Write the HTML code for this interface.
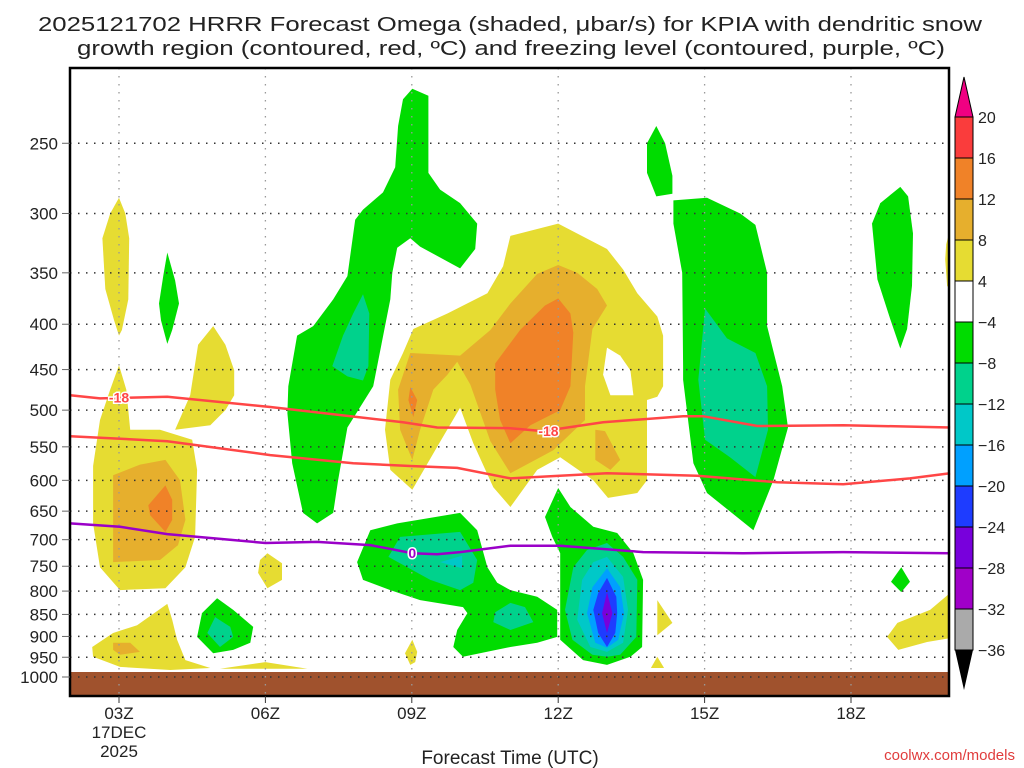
<!DOCTYPE html>
<html><head><meta charset="utf-8"><style>
html,body{margin:0;padding:0;background:#fff;}
svg{display:block;font-family:"Liberation Sans",sans-serif;}
</style></head><body>
<svg id="chart" width="1024" height="768" viewBox="0 0 1024 768">
<g id="title" fill="#222" font-size="20">
<text x="38" y="31" textLength="944" lengthAdjust="spacingAndGlyphs">2025121702 HRRR Forecast Omega (shaded, μbar/s) for KPIA with dendritic snow</text>
<text x="77" y="55" textLength="868" lengthAdjust="spacingAndGlyphs">growth region (contoured, red, ºC) and freezing level (contoured, purple, ºC)</text>
</g>
<g id="fills"></g>
<rect x="70" y="672" width="879" height="24" fill="#a0522d"/>
<g id="grid"></g>
<g id="lines"></g>
<rect x="70" y="68" width="879" height="628" fill="none" stroke="#000" stroke-width="2.5"/>
<g id="axes" fill="#222" font-size="17"></g>
<text x="510" y="764" text-anchor="middle" font-size="19" fill="#222">Forecast Time (UTC)</text>
<text x="1015" y="760" text-anchor="end" font-size="15" fill="#e03c3c">coolwx.com/models</text>
<g id="cbar" font-size="16" fill="#222"></g>
</svg>
<script>
const NS="http://www.w3.org/2000/svg";
// ---- data ----
const xTickHours=[3,6,9,12,15,18];
const xTickLabels=["03Z","06Z","09Z","12Z","15Z","18Z"];
const yTickLevels=[250,300,350,400,450,500,550,600,650,700,750,800,850,900,950,1000];
const cbarLabels=["20","16","12","8","4","-4","-8","-12","-16","-20","-24","-28","-32","-36"];
const cbarColors=["#fa3c3c","#f08228","#e6af2d","#e6dc32","#ffffff","#00dc00","#00d28c","#00c8c8","#00a0ff","#1e3cff","#7800dc","#a000c8","#aaaaaa"];
// shaded omega regions: [colorIndex, [[hour,hPa],...]]
const regions=[
[3,[[3.0,288],[3.13,300],[3.21,320],[3.19,375],[3.06,406],[3.0,412],[2.9,396],[2.72,365],[2.66,320],[2.82,300]]],
[3,[[3.0,445],[3.15,474],[3.23,526],[3.84,526],[4.5,540],[4.6,584],[4.56,695],[4.36,752],[3.95,794],[3.02,798],[2.61,752],[2.47,671],[2.47,578],[2.61,513],[2.82,474]]],
[3,[[4.93,402],[5.18,422],[5.36,451],[5.36,481],[5.18,500],[4.87,520],[4.15,526],[4.46,481],[4.62,422]]],
[2,[[2.88,592],[3.43,576],[3.95,569],[4.25,600],[4.36,665],[4.21,710],[3.84,738],[2.88,742]]],
[1,[[3.95,608],[4.09,631],[4.09,665],[3.95,686],[3.64,657],[3.6,640]]],
[5,[[3.99,332],[4.15,357],[4.23,379],[4.09,406],[3.99,421],[3.86,396],[3.82,379],[3.91,352]]],
[5,[[9.01,217],[9.34,221],[9.34,241],[9.34,270],[9.58,282],[9.99,292],[10.34,308],[10.30,329],[9.99,346],[9.17,327],[8.97,320],[8.70,328],[8.60,350],[8.56,375],[8.21,470],[7.68,523],[7.49,600],[7.39,653],[7.06,671],[6.77,653],[6.55,574],[6.45,504],[6.47,470],[6.65,412],[6.98,402],[7.39,375],[7.68,353],[7.84,305],[8.0,297],[8.41,284],[8.66,266],[8.72,239],[8.82,223]]],
[6,[[8.0,370],[8.13,389],[8.11,446],[8.0,463],[7.68,458],[7.37,446],[7.59,412],[7.80,389]]],
[3,[[11.02,318],[12.0,308],[13.0,329],[13.33,347],[13.62,369],[14.03,392],[14.15,412],[14.15,470],[14.03,483],[13.82,487],[13.82,600],[13.62,620],[13.02,628],[12.72,600],[12.04,565],[11.57,584],[11.02,643],[10.67,611],[10.26,545],[9.99,497],[9.52,550],[9.01,615],[8.56,584],[8.45,526],[8.56,462],[8.82,431],[9.03,405],[9.73,389],[10.55,369],[10.87,344]]],
[4,[[13.0,425],[13.27,434],[13.48,451],[13.54,481],[13.07,481],[12.92,456]]],
[2,[[12.76,526],[12.96,528],[13.27,569],[13.07,584],[12.76,569]]],
[2,[[8.97,431],[9.99,434],[10.61,406],[11.02,379],[11.57,351],[12.0,343],[12.39,350],[12.8,365],[13.0,381],[12.70,405],[12.55,470],[12.55,513],[11.90,555],[11.02,589],[10.61,542],[10.2,468],[9.93,441],[9.73,456],[9.44,474],[9.17,526],[9.01,569],[8.76,526],[8.72,474]]],
[1,[[10.71,443],[11.22,406],[11.73,381],[12.0,374],[12.25,389],[12.31,409],[12.25,470],[12.04,500],[11.43,520],[11.02,545],[10.81,513],[10.71,474]]],
[1,[[8.97,471],[9.11,487],[9.03,509],[8.93,487]]],
[5,[[14.01,239],[14.19,250],[14.34,272],[14.34,285],[14.01,287],[13.82,270],[13.82,250]]],
[5,[[14.36,290],[15.05,288],[15.73,300],[16.04,309],[16.28,350],[16.28,402],[16.59,470],[16.71,523],[16.41,600],[16.0,683],[15.05,620],[14.77,574],[14.56,462],[14.56,446],[14.54,350],[14.36,308]]],
[6,[[15.01,384],[15.46,415],[16.04,431],[16.28,470],[16.30,526],[16.04,595],[15.52,565],[15.01,540],[14.87,462]]],
[5,[[19.01,280],[19.17,287],[19.27,316],[19.25,362],[19.15,405],[19.01,426],[18.80,394],[18.54,356],[18.43,308],[18.60,292]]],
[3,[[20.03,313],[19.95,325],[19.93,338],[19.97,362],[20.03,366]]],
[5,[[7.88,742],[8.15,683],[8.70,671],[9.99,653],[10.34,683],[10.55,752],[10.75,783],[11.02,798],[11.57,812],[11.98,840],[11.98,901],[11.57,915],[11.02,925],[10.05,949],[9.85,925],[9.93,885],[10.14,847],[10.05,834],[9.17,819],[8.56,798],[8.0,777]]],
[6,[[8.52,732],[8.76,695],[9.99,686],[10.34,738],[10.26,783],[9.99,798],[9.38,777]]],
[7,[[9.58,742],[10.03,730],[10.03,754]]],
[6,[[10.71,845],[11.02,825],[11.32,834],[11.49,867],[11.02,885],[10.67,867]]],
[5,[[12.0,612],[12.25,643],[12.72,677],[13.21,688],[13.54,725],[13.74,777],[13.72,925],[13.48,949],[13.0,969],[12.51,957],[12.04,908],[12.04,812],[12.04,725],[11.88,695],[11.73,660]]],
[6,[[13.0,706],[13.33,732],[13.62,777],[13.6,901],[13.27,944],[13.0,949],[12.70,944],[12.29,908],[12.14,840],[12.31,752],[12.59,719]]],
[7,[[13.0,732],[13.33,771],[13.43,840],[13.33,915],[13.0,937],[12.66,925],[12.39,862],[12.49,777],[12.72,742]]],
[8,[[13.0,754],[13.27,792],[13.35,847],[13.23,908],[13.0,927],[12.76,915],[12.59,847],[12.70,792]]],
[9,[[13.0,773],[13.19,812],[13.21,847],[13.17,892],[13.0,925],[12.82,892],[12.72,840],[12.82,804]]],
[10,[[13.0,802],[13.11,847],[13.0,892],[12.90,847]]],
[5,[[5.01,815],[5.34,840],[5.75,878],[5.69,915],[5.34,932],[4.93,940],[4.60,901],[4.70,847]]],
[6,[[4.97,856],[5.28,878],[5.34,901],[5.07,925],[4.81,892]]],
[3,[[2.45,925],[2.88,892],[3.37,874],[3.99,827],[4.09,862],[4.19,908],[4.36,957],[4.87,977],[4.05,982],[3.02,974],[2.47,949]]],
[2,[[2.88,915],[3.23,915],[3.43,937],[3.02,944],[2.88,932]]],
[3,[[5.07,979],[6.0,962],[6.86,979]]],
[3,[[6.04,725],[6.34,744],[6.34,777],[6.04,794],[5.85,763],[5.89,738]]],
[3,[[9.01,908],[9.11,937],[9.07,962],[8.97,969],[8.86,940]]],
[3,[[14.03,819],[14.34,869],[14.03,897]]],
[3,[[13.9,977],[14.03,949],[14.17,977]]],
[5,[[19.03,752],[19.21,781],[19.03,802],[18.82,781]]],
[3,[[20.03,804],[19.62,840],[18.95,869],[18.74,901],[18.97,932],[19.56,913],[20.03,904]]]
];
const dgzUpperHours=[2.0,2.61,3.99,6.10,8.82,9.52,11.02,11.69,12.92,14.56,14.97,16.08,17.84,20.03];
const dgzUpperP=[481,485,483,496,516,523,524,528,516,508,508,521,520,523];
const dgzLowerHours=[2.0,3.99,6.10,7.80,8.97,9.93,11.02,13.0,14.85,16.49,17.84,19.21,20.03];
const dgzLowerP=[535,542,562,574,578,581,597,589,593,603,606,597,589];
const frzHours=[2.0,3.02,3.99,6.0,7.06,8.15,9.01,9.52,9.99,11.02,12.04,13.74,15.79,17.84,20.03];
const frzP=[671,677,690,706,704,710,725,727,723,711,711,723,725,723,725];
// ---- axes ----
const X=h=>119+(h-3)*48.8;
const Y=p=>677-385*Math.log(1000/p);
function el(tag,attrs,parent){const e=document.createElementNS(NS,tag);for(const k in attrs)e.setAttribute(k,attrs[k]);parent.appendChild(e);return e;}
const fills=document.getElementById('fills');
regions.forEach((r,i)=>{
 const d=r[1].map((pt,j)=>(j?'L':'M')+X(pt[0]).toFixed(1)+','+Y(pt[1]).toFixed(1)).join('')+'Z';
 const e=el('path',{d:d,fill:cbarColors[r[0]]},fills);
 
 
});
const grid=document.getElementById('grid');
xTickHours.forEach(h=>{const e=el('line',{x1:X(h),x2:X(h),y1:68,y2:696,stroke:'#999','stroke-width':1.3,'stroke-dasharray':'1.5 6.5'},grid);
 });
yTickLevels.forEach(p=>{const e=el('line',{x1:70,x2:949,y1:Y(p),y2:Y(p),stroke:'#333','stroke-width':1.5,'stroke-dasharray':'1.5 6.5'},grid);
 });
const lines=document.getElementById('lines');
function drawLine(hs,ps,color,name){const d=hs.map((h,j)=>(j?'L':'M')+X(h).toFixed(1)+','+Y(ps[j]).toFixed(1)).join('');
 const e=el('path',{d:d,fill:'none',stroke:color,'stroke-width':2.5},lines);
 }
drawLine(dgzUpperHours,dgzUpperP,'#ff4646','dgz-upper-contour');
drawLine(dgzLowerHours,dgzLowerP,'#ff4646','dgz-lower-contour');
drawLine(frzHours,frzP,'#9a00c8','freezing-level-contour');
function label(h,p,txt,color,name){
 const b=el('rect',{x:X(h)-14,y:Y(p)-8,width:28,height:16,fill:'#fff','fill-opacity':0},lines);
 const t=el('text',{x:X(h),y:Y(p)+5,'text-anchor':'middle','font-size':14,'font-weight':'bold',fill:color,stroke:'#fff','stroke-width':3,'paint-order':'stroke'},lines);
 t.textContent=txt;}
label(3.0,484,'-18','#ff4646','dgz-label-left');
label(11.8,528,'-18','#ff4646','dgz-label-mid');
label(9.01,725,'0','#9a00c8','freezing-level-label');
const axes=document.getElementById('axes');
yTickLevels.forEach(p=>{const t=el('text',{x:58,y:Y(p)+6,'text-anchor':'end'},axes);t.textContent=p;
 
 const k=el('line',{x1:62,x2:70,y1:Y(p),y2:Y(p),stroke:'#666','stroke-width':1},axes);
 });
xTickHours.forEach((h,i)=>{const t=el('text',{x:X(h),y:719,'text-anchor':'middle'},axes);t.textContent=xTickLabels[i];
 
 const k=el('line',{x1:X(h),x2:X(h),y1:696,y2:703,stroke:'#333','stroke-width':1},axes);
 });
[["17DEC",738],["2025",757]].forEach(a=>{const t=el('text',{x:X(3),y:a[1],'text-anchor':'middle'},axes);t.textContent=a[0];
 });
// colorbar
const cb=document.getElementById('cbar');
const cbX=955,cbW=18,cbTop=117,cbH=41;
cbarColors.forEach((c,i)=>{const r=el('rect',{x:cbX,y:cbTop+i*cbH,width:cbW,height:cbH,fill:c,stroke:'#000','stroke-width':1},cb);
 });
const up=el('polygon',{points:`${cbX},${cbTop} ${cbX+cbW},${cbTop} ${cbX+cbW/2},${cbTop-40}`,fill:'#f00082',stroke:'#000','stroke-width':1},cb);

const lo=cbTop+cbarColors.length*cbH;
const dn=el('polygon',{points:`${cbX},${lo} ${cbX+cbW},${lo} ${cbX+cbW/2},${lo+40}`,fill:'#000'},cb);

cbarLabels.forEach((s,i)=>{const t=el('text',{x:978,y:cbTop+i*cbH+6},cb);t.textContent=s.replace('-','−');
 });
</script>
</body></html>
